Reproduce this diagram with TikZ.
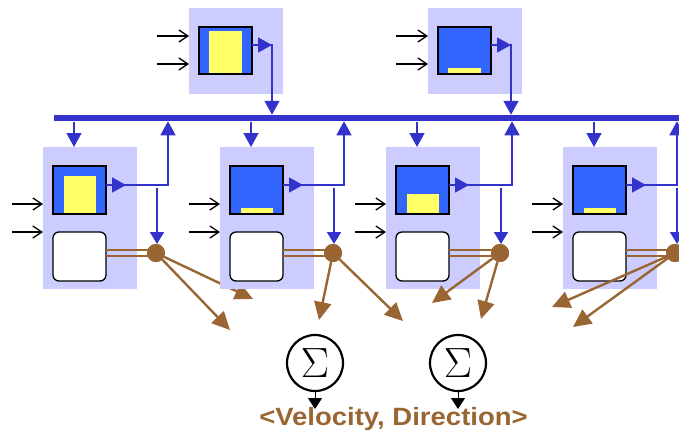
\documentclass[tikz,border=0pt]{standalone}
\usepackage{graphicx}
\usepackage{fontspec}
\newfontfamily\labelfont{Liberation Sans}
\usetikzlibrary{arrows.meta}
\definecolor{lav}{HTML}{CCCCFF}
\definecolor{bluebox}{HTML}{3366FF}
\definecolor{yel}{HTML}{FFFF66}
\definecolor{conn}{HTML}{3333CC}
\definecolor{brn}{HTML}{996633}
\tikzset{
  lavbox/.style={fill=lav, minimum width=94pt, minimum height=142pt, anchor=north west, inner sep=0pt, outer sep=0pt},
  toplav/.style={lavbox, minimum height=86pt},
  unitbox/.style={fill=bluebox, draw=black, line width=1.3pt, minimum width=53pt, minimum height=48pt, anchor=north west, inner sep=0pt, outer sep=0pt},
  roundbox/.style={fill=white, draw=black, line width=1.3pt, rounded corners=6pt, minimum width=53pt, minimum height=49pt, anchor=north west, inner sep=0pt, outer sep=0pt},
  busbar/.style={fill=conn, minimum width=625pt, minimum height=6.5pt, inner sep=0pt, outer sep=0pt, anchor=west},
  inarrow/.style={draw=black, line width=1.3pt, -{Straight Barb[length=9pt,width=12pt,line width=1.3pt]}},
  connl/.style={draw=conn, line width=1.6pt},
  bhead/.style={-{Triangle[length=14pt,width=15pt]}},
  midhead/.style={-{Triangle[length=14pt,width=15pt]}},
  dotnode/.style={circle, fill=brn, minimum size=18pt, inner sep=0pt, outer sep=0pt},
  brnl/.style={draw=brn, line width=2.4pt},
  brnarrow/.style={draw=brn, line width=2.4pt, -{Triangle[length=18pt,width=17pt]}},
  sig/.style={circle, draw=black, line width=2.2pt, minimum size=56pt, inner sep=0pt},
  sarrow/.style={draw=black, line width=1pt, -{Triangle[length=11pt,width=14pt]}},
}
\begin{document}
\begin{tikzpicture}[x=1pt,y=-1pt]
\useasboundingbox (0,0) rectangle (679,434);

% bus
\node[busbar] (bus) at (54,118) {};

% top blocks
\foreach \n/\x/\yt in {P/189/31, Q/428/68} {
  \node[toplav] (lav\n) at (\x,8) {};
  \node[unitbox, minimum height=47pt] (box\n) at (\x+10,27) {};
  \fill[yel] (\x+20,\yt) rectangle (\x+53,73.4);
  \coordinate (inA\n) at (\x-32,36);
  \coordinate (inB\n) at (\x-32,64);
  \draw[inarrow] (inA\n) -- (inA\n -| lav\n.west);
  \draw[inarrow] (inB\n) -- (inB\n -| lav\n.west);
  \coordinate (os\n) at ([yshift=5.5pt]box\n.east);
  \coordinate (out\n) at (\x+83,45);
  \draw[connl, midhead] (os\n) -- ++(20,0);
  \draw[connl, bhead] (os\n) -- (out\n) -- (out\n |- bus.north);
}

% lower blocks
\foreach \n/\x/\yt/\up/\dn/\cx/\ax/\ay/\bx/\by in
  {A/43/176/168/157/156/253/299/230/330,
   B/220/208/344/334/333/319/320/403/321,
   C/386/194/512/501/500/432/303/481/319,
   D/563/208/677/677/675/552/307/573/327} {
  \node[lavbox] (lav\n) at (\x,147) {};
  % bus drop
  \coordinate (dr\n) at (\x+31,121.5);
  \draw[connl, bhead] (dr\n) -- (dr\n |- lav\n.north);
  \node[unitbox] (box\n) at (\x+10,166) {};
  \fill[yel] (\x+21,\yt) rectangle (\x+53,213.35);
  \node[roundbox] (rb\n) at (\x+10,232) {};
  % inputs
  \coordinate (inA\n) at (\x-31,204);
  \coordinate (inB\n) at (\x-31,232);
  \draw[inarrow] (inA\n) -- (inA\n -| lav\n.west);
  \draw[inarrow] (inB\n) -- (inB\n -| lav\n.west);
  % output to bus
  \coordinate (os\n) at ([yshift=5pt]box\n.east);
  \coordinate (out\n) at (\up,185);
  \draw[connl, midhead] (os\n) -- ++(20,0);
  \draw[connl, bhead] (os\n) -- (out\n) -- (out\n |- bus.south);
  % brown junction
  \node[dotnode] (c\n) at (\cx,253) {};
  \coordinate (dn\n) at (\dn,188);
  \draw[connl, -{Triangle[length=12pt,width=14pt]}] (dn\n) -- (dn\n |- c\n.north);
  \coordinate (la\n) at ([yshift=6.5pt]rb\n.east);
  \coordinate (lb\n) at ([yshift=0.5pt]rb\n.east);
  \draw[brnl] (la\n) -- (la\n -| c\n);
  \draw[brnl] (lb\n) -- (lb\n -| c\n);
  \node[dotnode] at (c\n) {};
  \coordinate (ta\n) at (\ax,\ay);
  \coordinate (tb\n) at (\bx,\by);
  \draw[brnarrow] (c\n) -- (ta\n);
  \draw[brnarrow] (c\n) -- (tb\n);
}

% summation nodes
\node[sig] (s1) at (315,363) {\scalebox{1.7}{\Huge$\Sigma$}};
\node[sig] (s2) at (458,363) {\scalebox{1.7}{\Huge$\Sigma$}};
\coordinate (v1) at (315,409);
\coordinate (v2) at (458,409);
\draw[sarrow] (s1.south) -- (v1);
\draw[sarrow] (s2.south) -- (v2);

\node[anchor=base, text=brn, xscale=1.1, font=\labelfont\bfseries\fontsize{25}{25}\selectfont] (lbl) at (393.5,425) {<Velocity, Direction>};
\end{tikzpicture}
\end{document}
